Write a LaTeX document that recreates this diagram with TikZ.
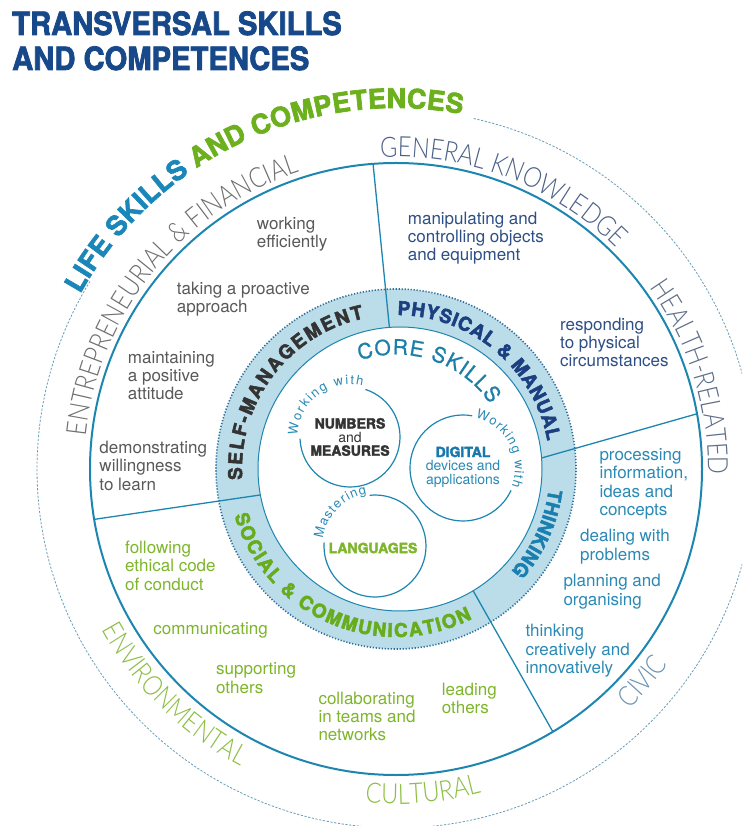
\documentclass[tikz,border=0pt]{standalone}
\usepackage{fontspec}
\usepackage{graphicx}
\setmainfont{TeX Gyre Heros}
\IfFontExistsTF{Lato Light}
  {\newfontfamily\outerfont[FakeStretch=0.84]{Lato Light}}
  {\newfontfamily\outerfont[FakeStretch=0.8]{TeX Gyre Heros}}
\newfontfamily\heavyfont[FakeBold=2.5]{TeX Gyre Heros}
\newfontfamily\medfont[FakeBold=0.8]{TeX Gyre Heros}
\usetikzlibrary{decorations.text}
\definecolor{titleblue}{HTML}{17498A}
\definecolor{ringteal}{HTML}{1D86B0}
\definecolor{dashteal}{HTML}{6A9DB8}
\definecolor{bandfill}{HTML}{BBDCE9}
\definecolor{dotblue}{HTML}{2B6E9C}
\definecolor{lifeteal}{HTML}{1A87B8}
\definecolor{lifegreen}{HTML}{6CB01E}
\definecolor{greytxt}{HTML}{595959}
\definecolor{navytxt}{HTML}{2E4F86}
\definecolor{tealtxt}{HTML}{2A8AB5}
\definecolor{greentxt}{HTML}{7DB62B}
\definecolor{outergrey}{HTML}{6E6E6E}
\definecolor{outerslate}{HTML}{4D6288}
\definecolor{outerhealth}{HTML}{5C6E87}
\definecolor{outercivic}{HTML}{6B93B3}
\definecolor{outergreen}{HTML}{8CBE44}
\definecolor{bandgrey}{HTML}{333333}
\definecolor{bandnavy}{HTML}{1B3F80}
\definecolor{bandteal}{HTML}{1A7FAE}
\definecolor{bandgreen}{HTML}{67AC1C}
\definecolor{coreteal}{HTML}{1B7FA9}
\definecolor{numgrey}{HTML}{333333}
\definecolor{digiteal}{HTML}{1878AD}
\tikzset{
  item/.style={anchor=north west, inner sep=0pt, align=left, font=\fontsize{17}{18.3}\selectfont},
  divider/.style={draw=ringteal, line width=1.3pt},
  inring/.style={draw=ringteal, line width=1.2pt},
  circtext/.style={align=center, inner sep=0pt, font=\fontsize{14}{13.6}\selectfont},
}
\begin{document}
\begin{tikzpicture}[x=1pt,y=1pt]
\useasboundingbox (-396,-357) rectangle (346,469);
\clip (-396,-357) rectangle (346,469);
\fill[white] (-396,-357) rectangle (346,469);

% title
\node[anchor=base west, inner sep=0pt, text=titleblue] (title1) at (-384,434)
  {\scalebox{0.913}[1]{\heavyfont\bfseries\fontsize{32}{36}\selectfont TRANSVERSAL SKILLS}};
\node[anchor=base west, inner sep=0pt, text=titleblue] (title2) at (-384,399)
  {\scalebox{0.913}[1]{\heavyfont\bfseries\fontsize{32}{36}\selectfont AND COMPETENCES}};

% outer dashed circle
\draw[dashteal, line width=0.8pt, dash pattern=on 2.2pt off 1.6pt]
  (77.5:359) arc[start angle=77.5, end angle=-211.5, radius=359];

% main circle
\draw[ringteal, line width=2pt] (0,0) circle[radius=306];

% band
\fill[bandfill, even odd rule] (0,0) circle[radius=180] (4,0) circle[radius=142];
\draw[dotblue, line width=1.6pt, dash pattern=on 1.2pt off 1.8pt] (0,0) circle[radius=180];
\draw[ringteal, line width=1pt] (4,0) circle[radius=142];

% dividers
\draw[divider] (-6.6,141.6) -- (94.3:306);
\draw[divider] (145.5,11) -- (301,55.2);
\draw[divider] (77,-121.5) -- (157,-263);
\draw[divider] (-136,-26) -- (-302,-50.4);

% inner circles
\begin{scope}[shift={(-46,32)}]
  \draw[inring] (72:50) arc[start angle=72, end angle=-178, radius=50];
  \path[decorate, decoration={text along path, text align={fit to path}, text color=tealtxt,
    text={|\fontsize{13}{14}\selectfont|Working with}}]
    (178:52.5) arc[start angle=178, end angle=76, radius=52.5];
\end{scope}
\begin{scope}[shift={(67,1)}]
  \draw[inring] (80:53) arc[start angle=80, end angle=335, radius=53];
  \path[decorate, decoration={text along path, text align={fit to path}, text color=tealtxt,
    text={|\fontsize{13}{14}\selectfont|Working with}}]
    (76:52) arc[start angle=76, end angle=-21, radius=52];
\end{scope}
\begin{scope}[shift={(-21,-77)}]
  \draw[inring] (96:51) arc[start angle=96, end angle=-184, radius=51];
  \path[decorate, decoration={text along path, text align={fit to path}, text color=tealtxt,
    text={|\fontsize{13}{14}\selectfont|Mastering}}]
    (172:52.5) arc[start angle=172, end angle=99, radius=52.5];
\end{scope}

\node[circtext, text=numgrey] (numbers) at (-46,32)
  {{\heavyfont\bfseries NUMBERS}\\and\\{\heavyfont\bfseries MEASURES}};
\node[circtext, text=tealtxt] (digital) at (67,2)
  {\textcolor{digiteal}{\heavyfont\bfseries DIGITAL}\\devices and\\applications};
\node[circtext, text=greentxt] (languages) at (-23,-79) {{\heavyfont\bfseries LANGUAGES}};

% core skills
\path[decorate, decoration={text along path, text align={fit to path}, text color=coreteal,
  text={|\medfont\fontsize{21}{23}\selectfont|CORE SKILLS}}]
  (108.5:114.5) arc[start angle=108.5, end angle=34.5, radius=114.5];

% band labels
\path[decorate, decoration={text along path, text align={fit to path}, text color=bandgrey,
  text={|\heavyfont\bfseries\fontsize{19}{21}\selectfont|SELF-MANAGEMENT}}]
  (184:154) arc[start angle=184, end angle=102, radius=154];
\path[decorate, decoration={text along path, text align={fit to path}, text color=bandnavy,
  text={|\heavyfont\bfseries\fontsize{19}{21}\selectfont|PHYSICAL {\&} MANUAL}}]
  (89.5:154) arc[start angle=89.5, end angle=10.5, radius=154];
\path[decorate, decoration={text along path, text align={fit to path}, text color=bandteal,
  text={|\heavyfont\bfseries\fontsize{19}{21}\selectfont|THINKING}}]
  (-7.5:154) arc[start angle=-7.5, end angle=-40.5, radius=154];
\path[decorate, decoration={text along path, text align={fit to path}, text color=bandgreen,
  text={|\heavyfont\bfseries\fontsize{19}{21}\selectfont|SOCIAL {\&} COMMUNICATION}}]
  (196:168) arc[start angle=196, end angle=297, radius=168];

% life skills title arc
\path[decorate, decoration={text along path, text align={fit to path},
  text={|\heavyfont\bfseries\fontsize{27}{29}\selectfont\color{lifeteal}|LIFE SKILLS |\heavyfont\bfseries\fontsize{27}{29}\selectfont\color{lifegreen}|AND COMPETENCES}}]
  (151:361) arc[start angle=151, end angle=79.5, radius=361];

% outer labels
\path[decorate, decoration={text along path, text align=center, text color=outergrey,
  text={|\outerfont\fontsize{28}{30}\selectfont|ENTREPRENEURIAL {\&} FINANCIAL}}]
  (181:312) arc[start angle=181, end angle=101, radius=312];
\path[decorate, decoration={text along path, text align=center, text color=outerslate,
  text={|\outerfont\fontsize{28}{30}\selectfont|GENERAL KNOWLEDGE}}]
  (99:312) arc[start angle=99, end angle=39, radius=312];
\path[decorate, decoration={text along path, text align=center, text color=outerhealth,
  text={|\outerfont\fontsize{28}{30}\selectfont|HEALTH-RELATED}}]
  (42.25:312) arc[start angle=42.25, end angle=-7.75, radius=312];
\path[decorate, decoration={text along path, text align=center, text color=outercivic,
  text={|\outerfont\fontsize{28}{30}\selectfont|CIVIC}}]
  (-52:335) arc[start angle=-52, end angle=-29.5, radius=335];
\path[decorate, decoration={text along path, text align=center, text color=outergreen,
  text={|\outerfont\fontsize{28}{30}\selectfont|CULTURAL}}]
  (-105:335) arc[start angle=-105, end angle=-65.5, radius=335];
\path[decorate, decoration={text along path, text align=center, text color=outergreen,
  text={|\outerfont\fontsize{28}{30}\selectfont|ENVIRONMENTAL}}]
  (-160:335) arc[start angle=-160, end angle=-109, radius=335];

% grey items
\node[item, text=greytxt] (work) at (-139.3,252) {working\\efficiently};
\node[item, text=greytxt] (proactive) at (-219.3,187.3) {taking a proactive\\approach};
\node[item, text=greytxt] (positive) at (-268.3,118) {maintaining\\a positive\\attitude};
\node[item, text=greytxt] (learn) at (-296.7,28) {demonstrating\\willingness\\to learn};
% green items
\node[item, text=greentxt] (ethical) at (-271,-72) {following\\ethical code\\of conduct};
\node[item, text=greentxt] (commun) at (-242.7,-153.7) {communicating};
\node[item, text=greentxt] (support) at (-180,-193.7) {supporting\\others};
\node[item, text=greentxt] (collab) at (-77.7,-222.7) {collaborating\\in teams and\\networks};
\node[item, text=greentxt] (leading) at (45.7,-213.7) {leading\\others};
% navy items
\node[item, text=navytxt] (manip) at (11.7,257.3) {manipulating and\\controlling objects\\and equipment};
\node[item, text=navytxt] (respond) at (164,151.3) {responding\\to physical\\circumstances};
% teal items
\node[item, text=tealtxt] (process) at (203.3,20.6) {processing\\information,\\ideas and\\concepts};
\node[item, text=tealtxt] (problems) at (184,-60.4) {dealing with\\problems};
\node[item, text=tealtxt] (planning) at (167.3,-105.4) {planning and\\organising};
\node[item, text=tealtxt] (creative) at (129.3,-155.4) {thinking\\creatively and\\innovatively};
\end{tikzpicture}
\end{document}
